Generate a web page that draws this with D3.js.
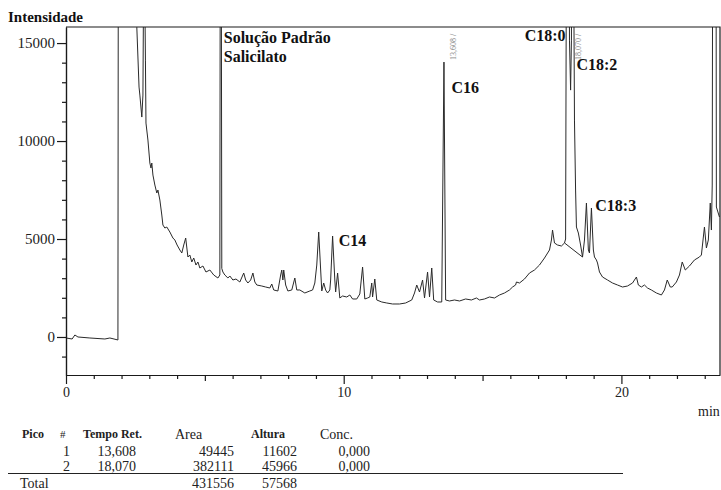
<!DOCTYPE html>
<html lang="pt">
<head>
<meta charset="UTF-8">
<title>Cromatograma</title>
<script src="https://cdn.jsdelivr.net/npm/d3@7/dist/d3.min.js"></script>
<style>
    body { margin: 0; background: #fff; }
    svg { display: block; font-family: "Liberation Serif", "Times New Roman", serif; }
    .axis path, .axis line { stroke: #1a1a1a; stroke-width: 1.2px; }
    .axis text { fill: #222; font-family: "Liberation Serif", serif; }
    .trace { fill: none; stroke: #2a2a2a; stroke-width: 1px; stroke-linejoin: round; }
    .peak-label { font-weight: bold; font-size: 16px; fill: #111; }
    .rt-label { font-size: 8px; fill: #888; }
    .tbl { font-size: 14px; fill: #222; }
    .tbl-b { font-size: 12px; font-weight: bold; fill: #222; }
</style>
</head>
<body>
<div id="chart"></div>
<script>
// chromatogram trace (min, intensity)
var retTime = [0.00, 0.22, 0.32, 0.43, 0.86, 1.40, 1.58, 1.87, 1.91, 2.23, 2.52, 2.55, 2.63, 2.66, 2.73, 2.77, 2.81, 2.86, 2.88, 2.95,
    3.02, 3.06, 3.09, 3.13, 3.20, 3.27, 3.31, 3.38, 3.45, 3.49, 3.56, 3.63, 3.74, 3.85, 3.92, 4.00, 4.10, 4.17, 4.24, 4.31,
    4.39, 4.46, 4.53, 4.60, 4.68, 4.75, 4.82, 4.93, 5.04, 5.18, 5.32, 5.47, 5.54, 5.57, 5.61, 5.65, 5.72, 5.83, 5.90, 6.01,
    6.12, 6.26, 6.40, 6.47, 6.55, 6.65, 6.73, 6.80, 6.87, 7.05, 7.19, 7.34, 7.41, 7.48, 7.63, 7.73, 7.77, 7.81, 7.84, 7.91,
    7.99, 8.13, 8.24, 8.31, 8.42, 8.60, 8.78, 8.88, 8.96, 9.03, 9.10, 9.17, 9.21, 9.28, 9.35, 9.42, 9.50, 9.53, 9.60, 9.68,
    9.71, 9.78, 9.86, 9.96, 10.11, 10.22, 10.32, 10.47, 10.58, 10.68, 10.76, 10.86, 10.94, 11.01, 11.04, 11.12, 11.19, 11.37, 11.55, 11.76,
    12.01, 12.23, 12.45, 12.55, 12.63, 12.70, 12.73, 12.84, 12.91, 13.02, 13.09, 13.17, 13.24, 13.38, 13.53, 13.61, 13.67, 13.81, 13.99, 14.17,
    14.39, 14.60, 14.78, 14.89, 15.07, 15.25, 15.43, 15.61, 15.79, 15.97, 16.08, 16.19, 16.22, 16.33, 16.51, 16.69, 16.87, 17.05, 17.23, 17.41,
    17.48, 17.52, 17.59, 17.70, 17.84, 17.95, 17.99, 18.07, 18.13, 18.17, 18.20, 18.24, 18.31, 18.35, 18.38, 18.45, 18.53, 18.60, 18.67, 18.74,
    18.81, 18.85, 18.92, 18.99, 19.03, 19.10, 19.14, 19.21, 19.32, 19.50, 19.68, 19.86, 20.04, 20.22, 20.40, 20.54, 20.61, 20.72, 20.83, 20.94,
    21.08, 21.26, 21.44, 21.55, 21.65, 21.76, 21.83, 21.98, 22.09, 22.19, 22.30, 22.45, 22.63, 22.81, 22.88, 22.99, 23.06, 23.13, 23.20, 23.24,
    23.27, 23.31, 23.40, 23.42, 23.53];
var intensity = [-51, -102, 102, 0, -51, -102, -51, -153, 60000, 45000, 18000, 15800, 12755, 12347, 11224, 12347, 22000, 14130, 10918, 10051,
    8877, 8622, 8877, 8265, 7755, 7347, 7500, 6990, 6224, 5714, 5561, 5612, 5357, 5051, 4949, 4694, 4439, 4286, 4694, 5050,
    4082, 4184, 3827, 4031, 3673, 3827, 3520, 3622, 3316, 3418, 3163, 3010, 3163, 40000, 3500, 3316, 3163, 3010, 3112, 2908,
    2959, 2806, 3265, 2908, 2755, 2908, 3265, 2806, 2653, 2602, 2551, 2500, 2704, 2398, 2347, 3163, 3418, 2908, 3418, 2653,
    2347, 2398, 3010, 2398, 2398, 2245, 2347, 2398, 2755, 3673, 5357, 3418, 2347, 2755, 2398, 2245, 2398, 2908, 5153, 2908,
    2296, 3265, 1990, 2092, 2041, 2143, 1939, 1939, 2194, 3571, 1939, 1990, 2041, 2755, 2041, 2959, 1888, 1786, 1735, 1684,
    1684, 1735, 1888, 2245, 2653, 2398, 2296, 2908, 1990, 3316, 2041, 3520, 1888, 1786, 1786, 14030, 1888, 1837, 1888, 1837,
    1939, 1888, 1990, 1888, 1939, 2041, 1990, 2143, 2245, 2398, 2551, 2653, 2806, 2755, 2959, 3265, 3418, 3673, 4031, 4439,
    4949, 5459, 4796, 4694, 4643, 4796, 5000, 45966, 15150, 12600, 15150, 30000, 11070, 7500, 5612, 5306, 4694, 4082, 4949, 6837,
    4439, 4286, 6582, 4439, 4082, 3929, 3776, 3316, 3061, 2908, 2755, 2653, 2551, 2602, 2755, 3061, 2653, 2551, 2653, 2500,
    2398, 2245, 2143, 2398, 2908, 2551, 2551, 2806, 3163, 3827, 3418, 3622, 3929, 4082, 4184, 5612, 4541, 4949, 6837, 5459,
    7755, 40000, 30000, 6633, 6122];

// integration baseline under the 18,070 peak
var baseTime = [17.95, 18.60];
var baseInt = [4800, 4080];

var yMajor = [0, 5000, 10000, 15000];
var xLabels = [0, 10, 20];

// peak annotations: text, time and intensity where the label sits
var labelText = ["Solução Padrão", "Salicilato", "C14", "C16", "C18:0", "C18:2", "C18:3"];
var labelTime = [5.68, 5.68, 9.82, 13.88, 17.99, 18.38, 19.06];
var labelInt = [15000, 14030, 4643, 12449, 15100, 13622, 6429];
var labelAnchor = ["start", "start", "start", "start", "end", "start", "start"];

var rtText = ["13,608 /", "18,070 /"];
var rtTime = [14.03, 18.56];

// peak table
var tblPico = ["1", "2"];
var tblTempo = ["13,608", "18,070"];
var tblArea = ["49445", "382111"];
var tblAltura = ["11602", "45966"];
var tblConc = ["0,000", "0,000"];
var totArea = "431556";
var totAltura = "57568";

var W = 721, H = 490;
var svg = d3.select("#chart").append("svg").attr("width", W).attr("height", H);

var x = d3.scaleLinear().domain([0, 23.55]).range([66, 720]);
var y = d3.scaleLinear().domain([-1940, 15820]).range([375, 27]);

svg.append("clipPath").attr("id", "plotclip")
    .append("rect").attr("x", 66).attr("y", 27).attr("width", 654).attr("height", 348);

var pts = retTime.map(function(t, i) { return [t, intensity[i]]; });
var line = d3.line().x(function(d) { return x(d[0]); }).y(function(d) { return y(d[1]); });

svg.append("path")
    .datum(pts)
    .attr("class", "trace")
    .attr("clip-path", "url(#plotclip)")
    .attr("d", line);

svg.append("path")
    .datum(baseTime.map(function(t, i) { return [t, baseInt[i]]; }))
    .attr("class", "trace")
    .attr("stroke-width", 0.8)
    .attr("d", line);

// y axis: minor then major ticks
svg.append("g").attr("class", "axis")
    .attr("transform", "translate(66,0)")
    .call(d3.axisLeft(y).tickValues(d3.range(-1000, 16000, 1000).filter(function(v) { return v % 5000 !== 0; }))
        .tickSize(4).tickSizeOuter(0).tickFormat(""));

svg.append("g").attr("class", "axis")
    .attr("transform", "translate(66,0)")
    .call(d3.axisLeft(y).tickValues(yMajor).tickSize(9).tickSizeOuter(0).tickPadding(2).tickFormat(d3.format("d")))
    .call(function(g) { g.selectAll("text").style("font-size", "15px"); });

// x axis
var xg = svg.append("g").attr("class", "axis")
    .attr("transform", "translate(0,375)")
    .call(d3.axisBottom(x).tickValues(d3.range(0, 24)).tickSize(4).tickSizeOuter(0)
        .tickFormat(function(d) { return xLabels.indexOf(d) >= 0 ? d : ""; }));
xg.selectAll(".tick line").attr("y2", function(d) { return d % 10 === 0 ? 9 : (d % 5 === 0 ? 6 : 4); });
xg.selectAll(".tick text").attr("y", 12).style("font-size", "14px");

// frame top and right
svg.append("path")
    .attr("d", "M66,27H720V375")
    .attr("fill", "none").attr("stroke", "#1a1a1a").attr("stroke-width", 1.2);

svg.append("text").attr("x", 8).attr("y", 22)
    .attr("font-weight", "bold").attr("font-size", 15).attr("fill", "#111")
    .text("Intensidade");

svg.append("text").attr("x", 698).attr("y", 416)
    .attr("font-size", 14).attr("fill", "#222")
    .text("min");

// annotations
svg.selectAll(".peak-label")
    .data(labelText)
    .join("text")
    .attr("class", "peak-label")
    .attr("x", function(d, i) { return x(labelTime[i]); })
    .attr("y", function(d, i) { return y(labelInt[i]); })
    .attr("text-anchor", function(d, i) { return labelAnchor[i]; })
    .text(function(d) { return d; });

svg.selectAll(".rt-label")
    .data(rtText)
    .join("text")
    .attr("class", "rt-label")
    .attr("transform", function(d, i) { return "translate(" + x(rtTime[i]) + ",60) rotate(-90)"; })
    .text(function(d) { return d; });

// peak table
var tbl = svg.append("g");
tbl.append("text").attr("class", "tbl-b").attr("x", 22).attr("y", 438).text("Pico");
tbl.append("text").attr("class", "tbl").attr("x", 60).attr("y", 438).style("font-size", "11px").text("#");
tbl.append("text").attr("class", "tbl-b").attr("x", 83).attr("y", 438).text("Tempo Ret.");
tbl.append("text").attr("class", "tbl").attr("x", 175).attr("y", 439).text("Area");
tbl.append("text").attr("class", "tbl-b").attr("x", 251).attr("y", 438).text("Altura");
tbl.append("text").attr("class", "tbl").attr("x", 320).attr("y", 439).text("Conc.");

var cols = [[tblPico, 70], [tblTempo, 136], [tblArea, 234], [tblAltura, 297], [tblConc, 370]];
cols.forEach(function(c) {
    c[0].forEach(function(v, i) {
        tbl.append("text").attr("class", "tbl")
            .attr("x", c[1]).attr("y", 456 + i * 15)
            .attr("text-anchor", "end").text(v);
    });
});

tbl.append("line").attr("x1", 8).attr("x2", 623).attr("y1", 473.5).attr("y2", 473.5)
    .attr("stroke", "#222").attr("stroke-width", 1.2);

tbl.append("text").attr("class", "tbl").attr("x", 20).attr("y", 488).text("Total");
tbl.append("text").attr("class", "tbl").attr("x", 234).attr("y", 488).attr("text-anchor", "end").text(totArea);
tbl.append("text").attr("class", "tbl").attr("x", 297).attr("y", 488).attr("text-anchor", "end").text(totAltura);
</script>
</body>
</html>
